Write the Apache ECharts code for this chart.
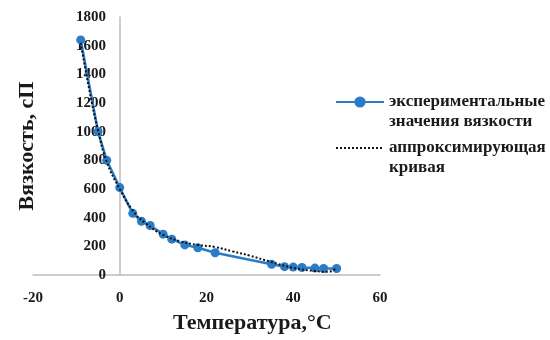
<!DOCTYPE html>
<html>
<head>
<meta charset="utf-8">
<script src="https://cdn.jsdelivr.net/npm/echarts@6/dist/echarts.min.js"></script>
<style>
  html, body { margin: 0; padding: 0; background: #fff; }
  #chart { width: 550px; height: 340px; }
</style>
</head>
<body>
<div id="chart"></div>
<script>
// экспериментальные точки (температура, вязкость)
const tempExp = [-9, -5, -3, 0, 3, 5, 7, 10, 12, 15, 18, 22, 35, 38, 40, 42, 45, 47, 50]
const viscExp = [1640, 1000, 800, 610, 430, 375, 345, 285, 250, 210, 190, 155, 75, 58, 55, 52, 48, 45, 45]
// аппроксимирующая кривая
const tempFit = [-9, -7, -5, -3, 0, 3, 6, 10, 14, 18, 22, 26, 30, 35, 40, 45, 48, 50]
const viscFit = [1620, 1290, 1010, 790, 600, 450, 360, 280, 235, 210, 195, 165, 135, 90, 50, 28, 22, 50]
// подписи осей
const xTicks = { min: -20, max: 60, step: 20 }
const yTicks = { min: 0, max: 1800, step: 200 }

const serif = '"Liberation Serif", "DejaVu Serif", serif'
const blue = '#2a7cc6'

const chart = echarts.init(document.getElementById('chart'))
chart.setOption({
  animation: false,
  grid: { left: 33, right: 170, top: 17, bottom: 65, containLabel: false, outerBoundsMode: 'none' },
  legend: {
    orient: 'vertical',
    left: 335,
    top: 72,
    padding: 0,
    itemWidth: 48,
    itemHeight: 14,
    itemGap: -14,
    textStyle: {
      fontFamily: serif,
      fontWeight: 'bold',
      fontSize: 17,
      lineHeight: 20,
      color: '#1a1a1a',
    },
    data: [
      { name: 'exp' },
      { name: 'fit', itemStyle: { opacity: 0 } },
    ],
    // пустая первая строка, чтобы значок стоял напротив первой строки подписи
    formatter: (name) => name === 'exp'
      ? '\nэкспериментальные\nзначения вязкости'
      : '\nаппроксимирующая\nкривая',
  },
  xAxis: {
    type: 'value',
    min: xTicks.min,
    max: xTicks.max,
    interval: xTicks.step,
    splitLine: { show: false },
    axisTick: { show: false },
    axisLine: { lineStyle: { color: '#bdbdbd', width: 1.5 } },
    axisLabel: {
      margin: 16,
      fontFamily: serif,
      fontWeight: 'bold',
      fontSize: 15,
      color: '#1a1a1a',
    },
  },
  yAxis: {
    type: 'value',
    min: yTicks.min,
    max: yTicks.max,
    interval: yTicks.step,
    // ось Y проходит через x = 0
    offset: -87,
    name: 'Вязкость, сП',
    nameLocation: 'middle',
    nameGap: 82,
    nameTextStyle: {
      fontFamily: serif,
      fontWeight: 'bold',
      fontSize: 22,
      color: '#1a1a1a',
    },
    splitLine: { show: false },
    axisTick: { show: false },
    axisLine: { show: true, onZero: false, lineStyle: { color: '#bdbdbd', width: 1.5 } },
    axisLabel: {
      margin: 14,
      fontFamily: serif,
      fontWeight: 'bold',
      fontSize: 15,
      color: '#1a1a1a',
      formatter: (v) => String(v),
    },
  },
  graphic: [
    {
      type: 'text',
      left: 173,
      top: 312,
      style: {
        text: 'Температура,°С',
        font: 'bold 22px ' + serif,
        fill: '#1a1a1a',
      },
    },
  ],
  series: [
    {
      name: 'exp',
      type: 'line',
      data: tempExp.map((t, i) => [t, viscExp[i]]),
      symbol: 'circle',
      symbolSize: 9,
      itemStyle: { color: blue },
      lineStyle: { color: blue, width: 2.5 },
      z: 2,
    },
    {
      name: 'fit',
      type: 'line',
      data: tempFit.map((t, i) => [t, viscFit[i]]),
      smooth: true,
      symbol: 'none',
      itemStyle: { color: '#111' },
      lineStyle: { color: '#111', width: 2, type: 'dotted' },
      z: 3,
    },
  ],
})
</script>
</body>
</html>
